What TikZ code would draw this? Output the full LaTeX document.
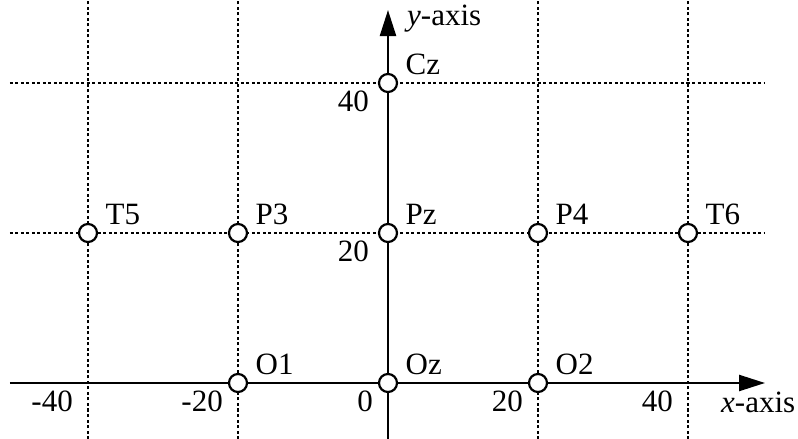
\documentclass[tikz,border=0pt]{standalone}
\usepackage{fontspec}
\setmainfont{Liberation Serif}
\usetikzlibrary{arrows.meta}
\tikzstyle{grid line} = [line width=1.6pt, dash pattern=on 3pt off 2.5pt]
\tikzstyle{axis} = [line width=2.3pt, -{Triangle[length=26pt, width=16pt]}]
\tikzstyle{electrode} = [circle, draw, line width=2.2pt, fill=white,
  minimum size=18pt, inner sep=0pt]
\tikzstyle{tag} = [anchor=base west, inner sep=0pt, xshift=17.5pt, yshift=8pt]
\tikzstyle{xtick} = [anchor=base east, inner sep=0pt, xshift=-15pt, yshift=-29pt]
\tikzstyle{ytick} = [anchor=base east, inner sep=0pt, xshift=-19pt, yshift=-28.5pt]

\begin{document}
\begin{tikzpicture}[x=7.5pt, y=7.5pt, font=\fontsize{31}{37}\selectfont]
    \useasboundingbox (-51.733,-7.467) rectangle (54.667,51.067);
    % dotted grid
    \foreach \gx in {-40,-20,20,40}
      \draw[grid line] (\gx,-7.467) -- (\gx,51.067);
    \foreach \gy in {20,40}
      \draw[grid line] (-50.4,\gy) -- (50.27,\gy);
    % axes
    \coordinate (xstart) at (-50.4,0);
    \coordinate (xend) at (50.27,0);
    \coordinate (ystart) at (0,-7.467);
    \coordinate (yend) at (0,49.73);
    \draw[axis] (xstart) -- (xend);
    \draw[axis] (ystart) -- (yend);
    \node[anchor=base west, inner sep=0pt] (xlabel) at (44.4,-3.867) {\textit{x}-axis};
    \node[anchor=base west, inner sep=0pt] (ylabel) at (2.533,47.73) {\textit{y}-axis};
    % tick labels
    \foreach \gx in {-40,-20,0,20,40}
      \node[xtick] (xt\gx) at (\gx,0) {\gx};
    \foreach \gy in {20,40}
      \node[ytick] (yt\gy) at (0,\gy) {\gy};
    % electrodes
    \foreach \name/\ex/\ey in {Cz/0/40, T5/-40/20, P3/-20/20, Pz/0/20, P4/20/20,
        T6/40/20, O1/-20/0, Oz/0/0, O2/20/0} {
      \node[electrode] (\name) at (\ex,\ey) {};
      \node[tag] (\name-lbl) at (\name.center) {\name};
    }
  \end{tikzpicture}
\end{document}
